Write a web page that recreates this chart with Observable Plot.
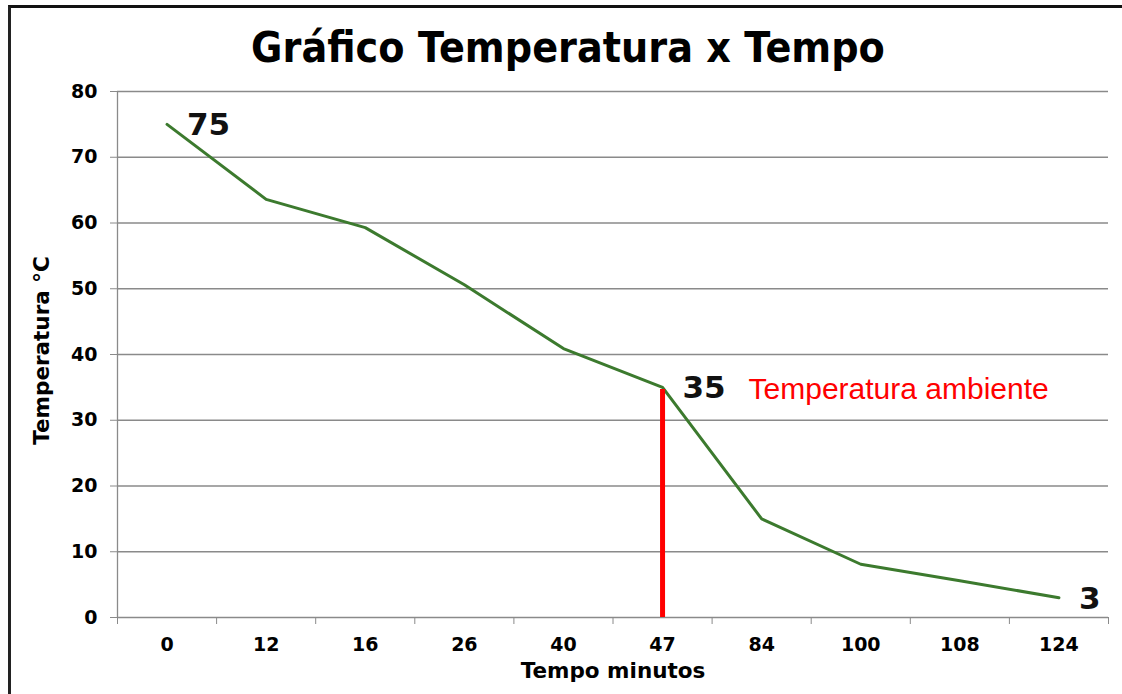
<!DOCTYPE html>
<html>
<head>
<meta charset="utf-8">
<script src="https://cdn.jsdelivr.net/npm/d3@7"></script>
<script src="https://cdn.jsdelivr.net/npm/@observablehq/plot@0.6"></script>
<style>
  html, body { margin: 0; padding: 0; background: #fff; }
  #wrap { position: relative; width: 1122px; height: 694px; overflow: hidden; background: #fff; }
  #frame { position: absolute; left: 8px; top: 5px; width: 1120px; height: 700px;
           border-top: 3px solid #111; border-left: 3px solid #222; pointer-events: none; }
  #title { position: relative; height: 80px; }
  #title span { position: absolute; left: 7px; top: 26px; width: 100%; text-align: center;
                font-family: "DejaVu Sans", Verdana, sans-serif; font-weight: bold; font-size: 43px;
                line-height: 43px; color: #000; transform: scaleX(0.89); transform-origin: 561px 0; }
</style>
</head>
<body>
<div id="wrap">
  <div id="title"><span>Gráfico Temperatura x Tempo</span></div>
  <div id="chart"></div>
  <div id="frame"></div>
</div>
<script>
// ---- data ----
const categories = ["0", "12", "16", "26", "40", "47", "84", "100", "108", "124"];
const temperatures = [75, 63.6, 59.3, 50.6, 40.9, 35, 15, 8.1, 5.6, 3];
const yTicks = [0, 10, 20, 30, 40, 50, 60, 70, 80];
const labelledTimes = ["0", "47", "124"];
const ambientTime = "47";
const ambientLabel = "Temperatura ambiente";
const xTitle = "Tempo minutos";
const yTitle = "Temperatura °C";

// ---- derived table ----
const rows = categories.map((c, i) => ({i, time: c, temp: temperatures[i]}));
const xDomain = [-0.5, categories.length - 0.5];
const boundaries = d3.range(categories.length + 1).map(k => k - 0.5);
const centers = d3.range(categories.length);
const ambientRow = rows.filter(d => d.time === ambientTime);

const gray = "#8a8a8a";
const green = "#3c7a2e";

const chart = Plot.plot({
  width: 1122,
  height: 614,
  marginTop: 11,
  marginBottom: 77,
  marginLeft: 117,
  marginRight: 14,
  style: {fontFamily: "'DejaVu Sans', Verdana, sans-serif", fontSize: "19px", fontWeight: "bold", color: "#000", background: "transparent"},
  x: {domain: xDomain, label: null},
  y: {domain: [0, 80], label: null},
  marks: [
    Plot.gridY(yTicks, {stroke: gray, strokeOpacity: 1, strokeWidth: 1.3}),
    Plot.ruleX([xDomain[0]], {y1: 0, y2: 80, stroke: gray, strokeWidth: 1.3}),
    Plot.axisY({ticks: yTicks, tickSize: 7, tickPadding: 13, stroke: gray, strokeOpacity: 1, fill: "#000",
                fontSize: 19, fontWeight: "bold", label: null}),
    Plot.axisX({ticks: boundaries, tickSize: 7, tickFormat: () => "", stroke: gray, strokeOpacity: 1, label: null}),
    Plot.axisX({ticks: centers, tickSize: 0, tickPadding: 20, tickFormat: i => categories[i], fill: "#000",
                fontSize: 19, fontWeight: "bold", label: null}),
    Plot.line(rows, {x: "i", y: "temp", stroke: green, strokeWidth: 3}),
    Plot.ruleX(ambientRow, {x: "i", y1: 0, y2: "temp", stroke: "#ff0000", strokeWidth: 5, insetBottom: -2}),
    Plot.text(rows.filter(d => labelledTimes.includes(d.time)), {
      x: "i", y: "temp", text: d => String(d.temp), textAnchor: "start", dx: 20, dy: 1,
      fontSize: 31, fontWeight: "bold", fill: "#111"
    }),
    Plot.text(ambientRow, {
      x: "i", y: "temp", text: () => ambientLabel, textAnchor: "start", dx: 86, dy: 2,
      fontSize: 30, fontWeight: "normal", fontFamily: "'Liberation Sans', Arial, sans-serif", fill: "#ff0000"
    }),
    Plot.text([xTitle], {frameAnchor: "bottom", text: d => d, dy: 60, fontSize: 21.5, fontWeight: "bold", fill: "#000"}),
    Plot.text([yTitle], {frameAnchor: "left", text: d => d, rotate: -90, textAnchor: "middle", dx: -75, dy: -4,
      fontSize: 21.5, fontWeight: "bold", fill: "#000"})
  ]
});
document.getElementById("chart").appendChild(chart);
</script>
</body>
</html>
